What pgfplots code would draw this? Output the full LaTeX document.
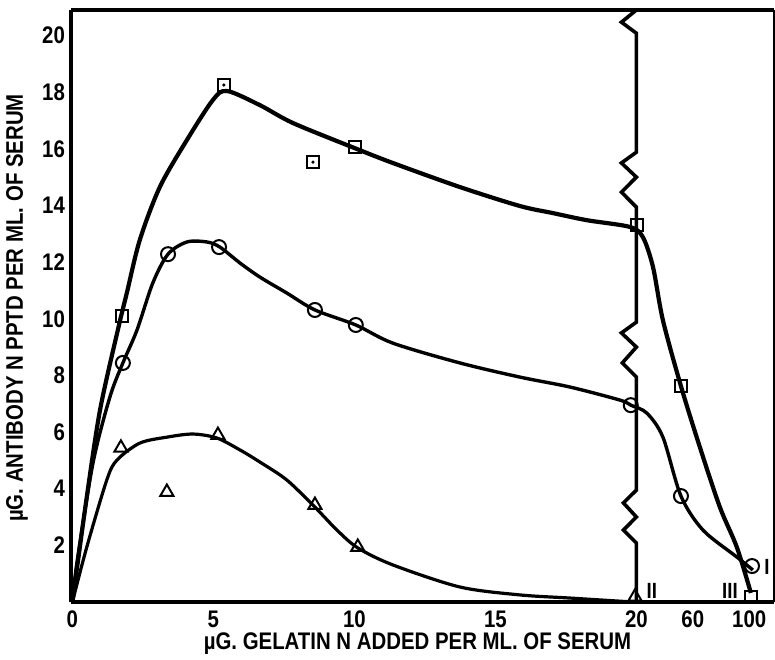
\documentclass[border=0pt]{standalone}
\usepackage{fontspec}
\setmainfont{Liberation Sans}[FakeStretch=0.85]
\usepackage{pgfplots}
\pgfplotsset{compat=1.18}
\usetikzlibrary{calc}

% x beyond 20 is drawn on a compressed scale: plotted x = 20 + (x-20)/20
\begin{document}
\begin{tikzpicture}
\begin{axis}[
  name=ax,
  scale only axis,
  width=351.5pt, height=296pt,
  xmin=-0.05, xmax=24.88,
  ymin=0, ymax=20.9,
  clip=false,
  axis line style={draw=none},
  tick style={draw=none},
  xtick={0,5,10,15,20,22,24},
  xticklabels={0,5,10,15,20,60,100},
  ytick={2,4,6,8,10,12,14,16,18,20},
  yticklabels={2,4,6,8,10,12,14,16,18,20},
  tick label style={font=\bfseries\fontsize{12}{14}\selectfont},
  xticklabel style={yshift=-1pt},
  yticklabel style={xshift=0.5pt},
  label style={font=\bfseries\fontsize{12}{14}\selectfont},
  xlabel={µG. GELATIN N ADDED PER ML. OF SERUM},
  ylabel={µG. ANTIBODY N PPTD PER ML. OF SERUM},
  x label style={at={(axis description cs:0.5,0)}, anchor=center, yshift=-21pt, xshift=-2.5pt},
  y label style={at={(axis description cs:0,0.5)}, anchor=center, yshift=27pt, xshift=-1pt},
]
% frame
\draw[line width=2.4pt] (rel axis cs:0,0) -- (rel axis cs:1,0);
\draw[line width=2.4pt] (rel axis cs:0,0) -- (rel axis cs:0,1);
\draw[line width=2pt] (rel axis cs:0,1) -- (rel axis cs:1,1);
\draw[line width=0.7pt] (rel axis cs:1,0) -- (rel axis cs:1,1);

% scale break
\addplot[black, line width=1.8pt, sharp plot] coordinates {
  (20,20.9) (19.47,20.47) (20,20.08) (20,15.88) (19.47,15.5) (20,15.0)
  (19.47,14.47) (20,13.94) (20,9.88) (19.47,9.5) (20,9.0) (19.5,8.44)
  (20,7.94) (20,3.95) (19.54,3.5) (20,3.0) (19.54,2.54) (20,2.08) (20,0)
};

% curve III (squares)
\addplot[black, line width=2.1pt, smooth, tension=0.5] coordinates {
  (0,0) (0.51,3.71) (0.98,6.78) (1.61,9.6) (1.93,10.91) (2.39,12.78)
  (3.1,14.65) (4.06,16.31) (4.98,17.72) (5.48,18.04) (6.65,17.54)
  (7.82,16.91) (10.02,16.02) (11.36,15.5) (13.74,14.65) (15.87,13.98)
  (17.04,13.73) (18.24,13.48) (19.77,13.24) (20.23,12.88) (20.59,11.82)
  (20.94,9.95) (21.58,7.62) (22.25,5.47) (22.96,3.35) (23.56,1.94) (24.06,0.32)
};
% curve I (circles)
\addplot[black, line width=1.7pt, smooth, tension=0.5] coordinates {
  (0,0) (0.16,1.38) (0.73,4.91) (1.33,7.24) (1.79,8.44) (2.29,9.6)
  (2.85,11.26) (3.39,12.28) (4.06,12.71) (4.77,12.71) (5.23,12.53)
  (5.94,11.97) (6.65,11.47) (7.6,10.91) (8.6,10.31) (10.05,9.78)
  (11.36,9.14) (13.74,8.44) (15.87,7.94) (17.64,7.59) (19.41,7.13)
  (19.8,6.95) (20.37,6.67) (20.94,5.82) (21.58,3.74) (22.36,2.54)
  (23.56,1.59) (24.13,1.13)
};
% curve II (triangles)
\addplot[black, line width=1.6pt, smooth, tension=0.5] coordinates {
  (0,0) (0.51,1.94) (1.22,4.31) (1.58,5.01) (2.39,5.61) (3.35,5.82)
  (4.27,5.93) (5.12,5.79) (5.94,5.37) (6.65,4.94) (7.6,4.31) (8.6,3.35)
  (9.38,2.54) (10.12,1.91) (11.36,1.31) (13.74,0.53) (15.87,0.25)
  (17.64,0.14) (19.88,0)
};

% measured points
\addplot[black, only marks, mark=square, mark size=3pt, mark options={line width=1pt, fill=none}] coordinates {
  (1.76,10.1) (5.37,18.25) (8.53,15.53) (10.02,16.06) (20.02,13.31) (21.58,7.62) (24.06,0.18)
};
\addplot[black, only marks, mark=*, mark size=0.6pt] coordinates {
  (5.37,18.25) (8.53,15.53)
};
\addplot[black, only marks, mark=o, mark size=3.5pt, mark options={line width=1pt}] coordinates {
  (1.79,8.44) (3.39,12.28) (5.2,12.53) (8.6,10.31) (10.05,9.78) (19.8,6.95) (21.58,3.74) (24.1,1.27)
};
\addplot[black, only marks, mark=triangle, mark size=3.8pt, mark options={line width=1pt, fill=none}] coordinates {
  (1.72,5.44) (3.35,3.88) (5.16,5.89) (8.6,3.42) (10.12,1.94) (19.95,0.18)
};

\node[font=\bfseries\fontsize{11}{13}\selectfont] at (axis cs:24.63,1.24) {I};
\node[font=\bfseries\fontsize{11}{13}\selectfont] at (axis cs:20.55,0.4) {II};
\node[font=\bfseries\fontsize{11}{13}\selectfont] at (axis cs:23.32,0.4) {III};
\end{axis}
\pgfresetboundingbox
\path ($(ax.south west)+(-35.5pt,-28.5pt)$) rectangle ($(ax.north east)+(0.5pt,5pt)$);
\end{tikzpicture}
\end{document}
